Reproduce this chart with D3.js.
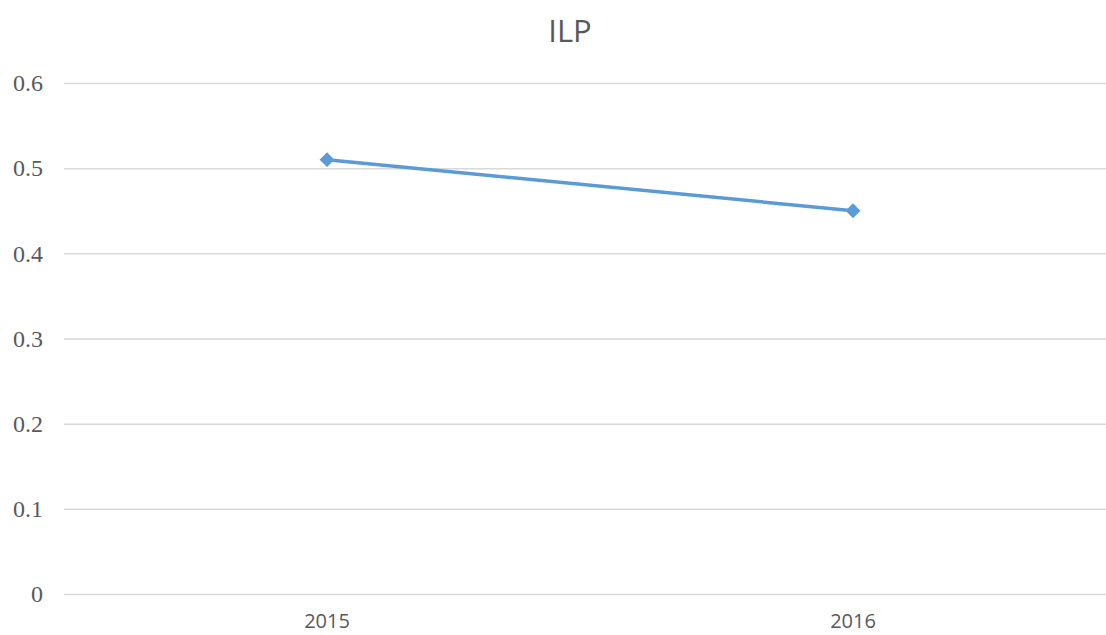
<!DOCTYPE html>
<html>
<head>
<meta charset="utf-8">
<script src="https://cdn.jsdelivr.net/npm/d3@7"></script>
<style>
  body { margin: 0; background: #fff; overflow: hidden; }
  svg { display: block; }
</style>
</head>
<body>
<svg id="chart" width="1106" height="635"></svg>
<script>
const years = ["2015", "2016"];
const ilp = [0.51, 0.45];
const yTicks = [0, 0.1, 0.2, 0.3, 0.4, 0.5, 0.6];

const svg = d3.select("#chart");
const margin = { left: 64, right: -10, top: 83, bottom: 41 };
const width = 1106, height = 635;

const x = d3.scaleBand()
    .domain(years)
    .range([margin.left, width - margin.right]);

const y = d3.scaleLinear()
    .domain([0, 0.6])
    .range([height - margin.bottom, margin.top]);

// title
svg.append("text")
    .attr("x", 570)
    .attr("y", 42)
    .attr("text-anchor", "middle")
    .attr("fill", "#595959")
    .style("font-family", "'Open Sans', 'Noto Sans', sans-serif")
    .style("font-size", "31px")
    .text("ILP");

// gridlines + y labels
const yAxis = svg.append("g")
    .attr("transform", `translate(${margin.left},0)`)
    .call(d3.axisLeft(y).tickValues(yTicks).tickSize(-(width - margin.right - margin.left)).tickPadding(21).tickFormat(d3.format("")));
yAxis.select(".domain").remove();
yAxis.selectAll(".tick line").attr("stroke", "#d9d9d9").attr("stroke-width", 1.5);
yAxis.selectAll(".tick text")
    .attr("fill", "#595959")
    .style("font-family", "'Liberation Serif', 'DejaVu Serif', serif")
    .style("font-size", "24px");

// x labels
const xAxis = svg.append("g")
    .attr("transform", `translate(0,${y(0)})`)
    .call(d3.axisBottom(x).tickSize(0).tickPadding(20));
xAxis.select(".domain").remove();
xAxis.selectAll(".tick text")
    .attr("fill", "#595959")
    .style("font-family", "'Open Sans', 'Noto Sans', sans-serif")
    .style("font-size", "20px");

// line
const pts = years.map((d, i) => [x(d) + x.bandwidth() / 2, y(ilp[i])]);
svg.append("path")
    .datum(pts)
    .attr("d", d3.line())
    .attr("fill", "none")
    .attr("stroke", "#5b9bd5")
    .attr("stroke-width", 3.5)
    .attr("stroke-linecap", "round");

svg.selectAll(".marker")
    .data(pts)
    .enter()
    .append("path")
    .attr("class", "marker")
    .attr("transform", (d) => `translate(${d[0]},${d[1]})`)
    .attr("d", d3.symbol(d3.symbolDiamond2, 140))
    .attr("fill", "#5b9bd5");
</script>
</body>
</html>
